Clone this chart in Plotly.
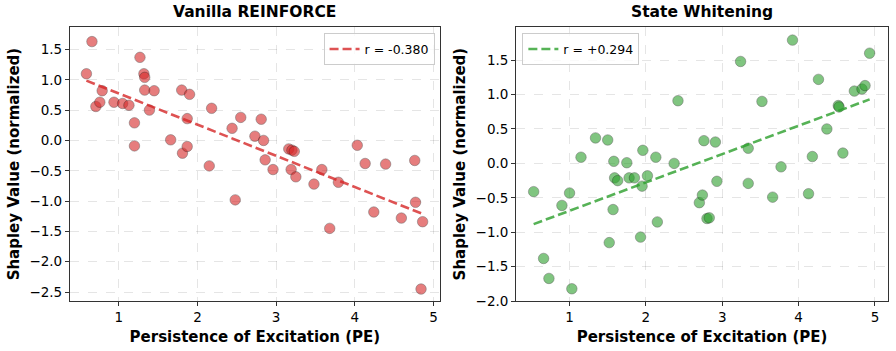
import numpy as np
import plotly.graph_objects as go

# Vanilla REINFORCE (left panel)
pe_vanilla = [0.59, 0.66, 0.71, 0.76, 0.79, 0.94, 1.05, 1.13, 1.20, 1.20,
              1.27, 1.32, 1.33, 1.33, 1.39, 1.45, 1.66, 1.80, 1.81, 1.87,
              1.87, 1.90, 2.15, 2.18, 2.44, 2.48, 2.55, 2.73, 2.81, 2.84,
              2.86, 2.96, 3.16, 3.20, 3.23, 3.19, 3.25, 3.48, 3.58, 3.68,
              3.79, 4.03, 4.13, 4.24, 4.39, 4.59, 4.76, 4.77, 4.86, 4.84]
shap_vanilla = [1.10, 1.63, 0.56, 0.63, 0.82, 0.63, 0.61, 0.58, 0.29, -0.09,
                1.37, 1.10, 1.04, 0.83, 0.50, 0.82, 0.01, 0.83, -0.21, -0.10,
                0.36, 0.76, -0.42, 0.53, 0.20, -0.98, 0.38, 0.07, 0.35, 0.00,
                -0.32, -0.48, -0.14, -0.16, -0.18, -0.48, -0.60, -0.72, -0.48, -1.45,
                -0.69, -0.08, -0.38, -1.18, -0.39, -1.28, -0.33, -1.02, -1.34, -2.45]
r_vanilla = "r = -0.380"

# State Whitening (right panel)
pe_white = [0.53, 0.66, 0.73, 0.90, 1.00, 1.03, 1.15, 1.34, 1.50, 1.52,
            1.57, 1.58, 1.59, 1.63, 1.75, 1.78, 1.85, 1.95, 1.96, 1.93,
            2.02, 2.13, 2.15, 2.37, 2.42, 2.70, 2.74, 2.76, 2.80, 2.83,
            2.91, 2.93, 3.24, 3.34, 3.34, 3.52, 3.66, 3.77, 3.92, 4.13,
            4.18, 4.26, 4.37, 4.52, 4.53, 4.58, 4.73, 4.83, 4.87, 4.93]
shap_white = [-0.41, -1.38, -1.67, -0.61, -0.43, -1.82, 0.09, 0.37, 0.34, -1.15,
              -0.67, 0.03, -0.21, -0.25, 0.01, -0.21, -0.21, -0.33, 0.19, -1.07,
              -0.18, 0.09, -0.85, 0.00, 0.91, -0.57, -0.46, 0.33, -0.80, -0.79,
              0.31, -0.26, 1.48, 0.22, -0.29, 0.90, -0.49, -0.05, 1.79, -0.44,
              0.10, 1.22, 0.50, 0.84, 0.82, 0.15, 1.05, 1.08, 1.13, 1.60]
r_white = "r = +0.294"

RED = "#d62728"
GREEN = "#2ca02c"
FONT = "DejaVu Sans"

fig = go.Figure()

def add_panel(xs, ys, color, label, xa, ya, legend):
    xs = np.array(xs); ys = np.array(ys)
    fig.add_trace(go.Scatter(x=xs, y=ys, mode="markers", xaxis=xa, yaxis=ya,
                             showlegend=False,
                             marker=dict(size=10.5, color=color, opacity=0.6,
                                         line=dict(color="rgba(0,0,0,0.8)", width=0.6))))
    k, b = np.polyfit(xs, ys, 1)
    lx = np.array([xs.min(), xs.max()])
    fig.add_trace(go.Scatter(x=lx, y=k * lx + b, mode="lines", xaxis=xa, yaxis=ya,
                             name=label, legend=legend, opacity=0.8,
                             line=dict(color=color, width=2.6, dash="9px,4px")))

add_panel(pe_vanilla, shap_vanilla, RED, r_vanilla, "x", "y", "legend")
add_panel(pe_white, shap_white, GREEN, r_white, "x2", "y2", "legend2")

axis_common = dict(showline=True, mirror=True, linecolor="#333", linewidth=1,
                   ticks="outside", ticklen=4, tickcolor="#333", automargin=False,
                   showgrid=True, gridcolor="rgba(0,0,0,0.1)", griddash="dash",
                   zeroline=False, tickfont=dict(family=FONT, size=13.5, color="#000"))
title_font = dict(family=FONT, size=15, color="#000", weight="bold")

fig.update_layout(
    width=896, height=351,
    margin=dict(l=0, r=0, t=0, b=0),
    paper_bgcolor="white", plot_bgcolor="white",
    font=dict(family=FONT, color="#000"),
    xaxis=dict(axis_common, domain=[0.078, 0.491], range=[0.38, 5.08], dtick=1,
               title=dict(text="Persistence of Excitation (PE)", font=title_font, standoff=7),
               anchor="y"),
    yaxis=dict(axis_common, domain=[0.142, 0.923], range=[-2.65, 1.87], dtick=0.5,
               tickformat=".1f",
               title=dict(text="Shapley Value (normalized)", font=title_font, standoff=6),
               anchor="x"),
    xaxis2=dict(axis_common, domain=[0.576, 0.991], range=[0.30, 5.17], dtick=1,
                title=dict(text="Persistence of Excitation (PE)", font=title_font, standoff=7),
                anchor="y2"),
    yaxis2=dict(axis_common, domain=[0.142, 0.923], range=[-2.0, 1.98], dtick=0.5,
                tickformat=".1f",
                title=dict(text="Shapley Value (normalized)", font=title_font, standoff=6),
                anchor="x2"),
    legend=dict(x=0.485, y=0.905, xanchor="right", yanchor="top",
                bgcolor="rgba(255,255,255,0.8)", bordercolor="#ccc", borderwidth=1,
                font=dict(family=FONT, size=12.5)),
    legend2=dict(x=0.583, y=0.905, xanchor="left", yanchor="top",
                 bgcolor="rgba(255,255,255,0.8)", bordercolor="#ccc", borderwidth=1,
                 font=dict(family=FONT, size=12.5)),
    annotations=[
        dict(text="<b>Vanilla REINFORCE</b>", x=0.2845, y=0.935, xref="paper", yref="paper",
             xanchor="center", yanchor="bottom", showarrow=False,
             font=dict(family=FONT, size=15.5, color="#000")),
        dict(text="<b>State Whitening</b>", x=0.7835, y=0.935, xref="paper", yref="paper",
             xanchor="center", yanchor="bottom", showarrow=False,
             font=dict(family=FONT, size=15.5, color="#000")),
    ],
)

# the page body has a default 8px margin, drop it so the figure sits at 0,0
fig.write_html("out.html", config={"displayModeBar": False},
               post_script="document.body.style.margin='0';")
